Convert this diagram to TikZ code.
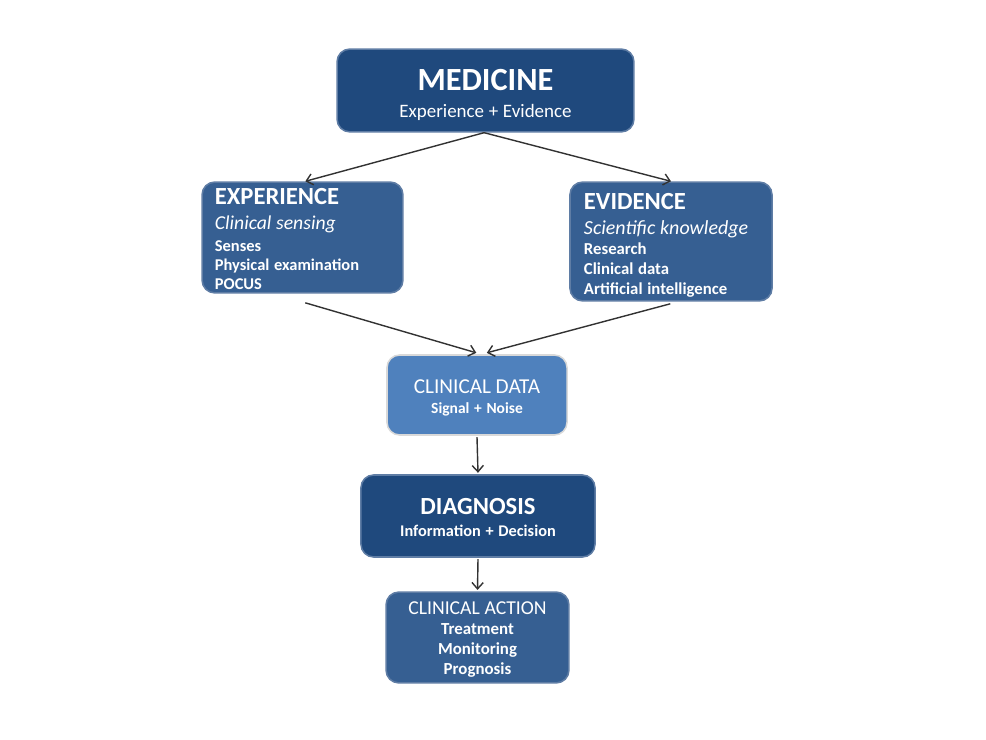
\documentclass[tikz,border=0pt]{standalone}
\usepackage{fontspec}
\setmainfont{Carlito}
\usepackage{tikz}
\usetikzlibrary{arrows.meta, positioning}
\usepackage{xcolor}
\definecolor{darkbox}{RGB}{31,73,125}
\definecolor{midbox}{RGB}{54,95,146}
\definecolor{lightbox}{RGB}{79,129,189}
\definecolor{boxedge}{RGB}{95,125,165}
\definecolor{arrowgrey}{RGB}{50,50,50}

\begin{document}
\begin{tikzpicture}[
    x=0.025cm, y=-0.025cm,
    box/.style={rectangle, rounded corners=9pt, draw=boxedge, line width=1.1pt,
                text=white, align=center, inner sep=0pt},
    dark/.style={box, fill=darkbox},
    mid/.style={box, fill=midbox},
    light/.style={box, fill=lightbox, draw=black!15},
    arr/.style={-{Straight Barb[length=4.5pt, width=8pt]}, line width=1pt, draw=arrowgrey},
]
    \useasboundingbox (0,0) rectangle (986,740);

    \node[dark, minimum width=7.42cm, minimum height=2.07cm, text width=7cm] (medicine) at (485.5,90.5)
        {\par\vspace*{-2.8pt}%
         {\fontsize{23}{24}\selectfont\bfseries MEDICINE\par}
         {\fontsize{13.5}{19.2}\selectfont Experience + Evidence\par}};

    \node[mid, minimum width=5.02cm, minimum height=2.77cm, align=left,
          text width=4.38cm] (experience) at (302.5,237.5)
        {\par\vspace*{-2.8pt}%
         {\fontsize{17.5}{17}\selectfont\bfseries EXPERIENCE\par}
         {\fontsize{14}{17.8}\selectfont\itshape Clinical sensing\par}
         {\fontsize{11.7}{15.6}\selectfont\bfseries Senses\par}
         {\fontsize{11.7}{13.5}\selectfont\bfseries Physical examination\par POCUS\par}};

    \node[mid, minimum width=5.05cm, minimum height=2.97cm, align=left,
          text width=4.35cm] (evidence) at (671,241.5)
        {\par\vspace*{0pt}%
         {\fontsize{17.5}{17}\selectfont\bfseries EVIDENCE\par}
         {\fontsize{14.2}{17.8}\selectfont\itshape Scientific knowledge\par}
         {\fontsize{11.9}{14.2}\selectfont\bfseries Research\par Clinical data\par Artificial intelligence\par}};

    \node[light, minimum width=4.5cm, minimum height=2cm, text width=4.2cm] (clindata) at (477,395)
        {\par\vspace*{-1.4pt}%
         {\fontsize{15.1}{16}\selectfont CLINICAL DATA\par}
         {\fontsize{11}{14.2}\selectfont\bfseries Signal + Noise\par}};

    \node[dark, minimum width=5.85cm, minimum height=2.05cm, text width=5.5cm] (diagnosis) at (478,516)
        {\par\vspace*{-4.4pt}%
         {\fontsize{17.5}{18}\selectfont\bfseries DIAGNOSIS\par}
         {\fontsize{11.6}{15.6}\selectfont\bfseries Information + Decision\par}};

    \node[mid, minimum width=4.57cm, minimum height=2.27cm, text width=4.3cm] (action) at (477.5,637.5)
        {\par\vspace*{-1.5pt}%
         {\fontsize{14}{14}\selectfont CLINICAL ACTION\par}
         {\fontsize{12}{14.2}\selectfont\bfseries Treatment\par Monitoring\par Prognosis\par}};

    \draw[arr] ([xshift=-1pt]medicine.south) -- ([xshift=2pt]experience.north);
    \draw[arr] ([xshift=-1pt]medicine.south) -- (evidence.north);
    \draw[arr] ([xshift=2pt,yshift=-6.5pt]experience.south) -- ([xshift=-0.5pt,yshift=1pt]clindata.north);
    \draw[arr] ([xshift=-0.5pt,yshift=-1.5pt]evidence.south) -- ([xshift=7pt,yshift=1pt]clindata.north);
    \draw[arr] ([yshift=-1pt]clindata.south) -- ([yshift=1pt]diagnosis.north);
    \draw[arr] ([yshift=-1pt]diagnosis.south) -- ([yshift=1pt]action.north);
\end{tikzpicture}
\end{document}
